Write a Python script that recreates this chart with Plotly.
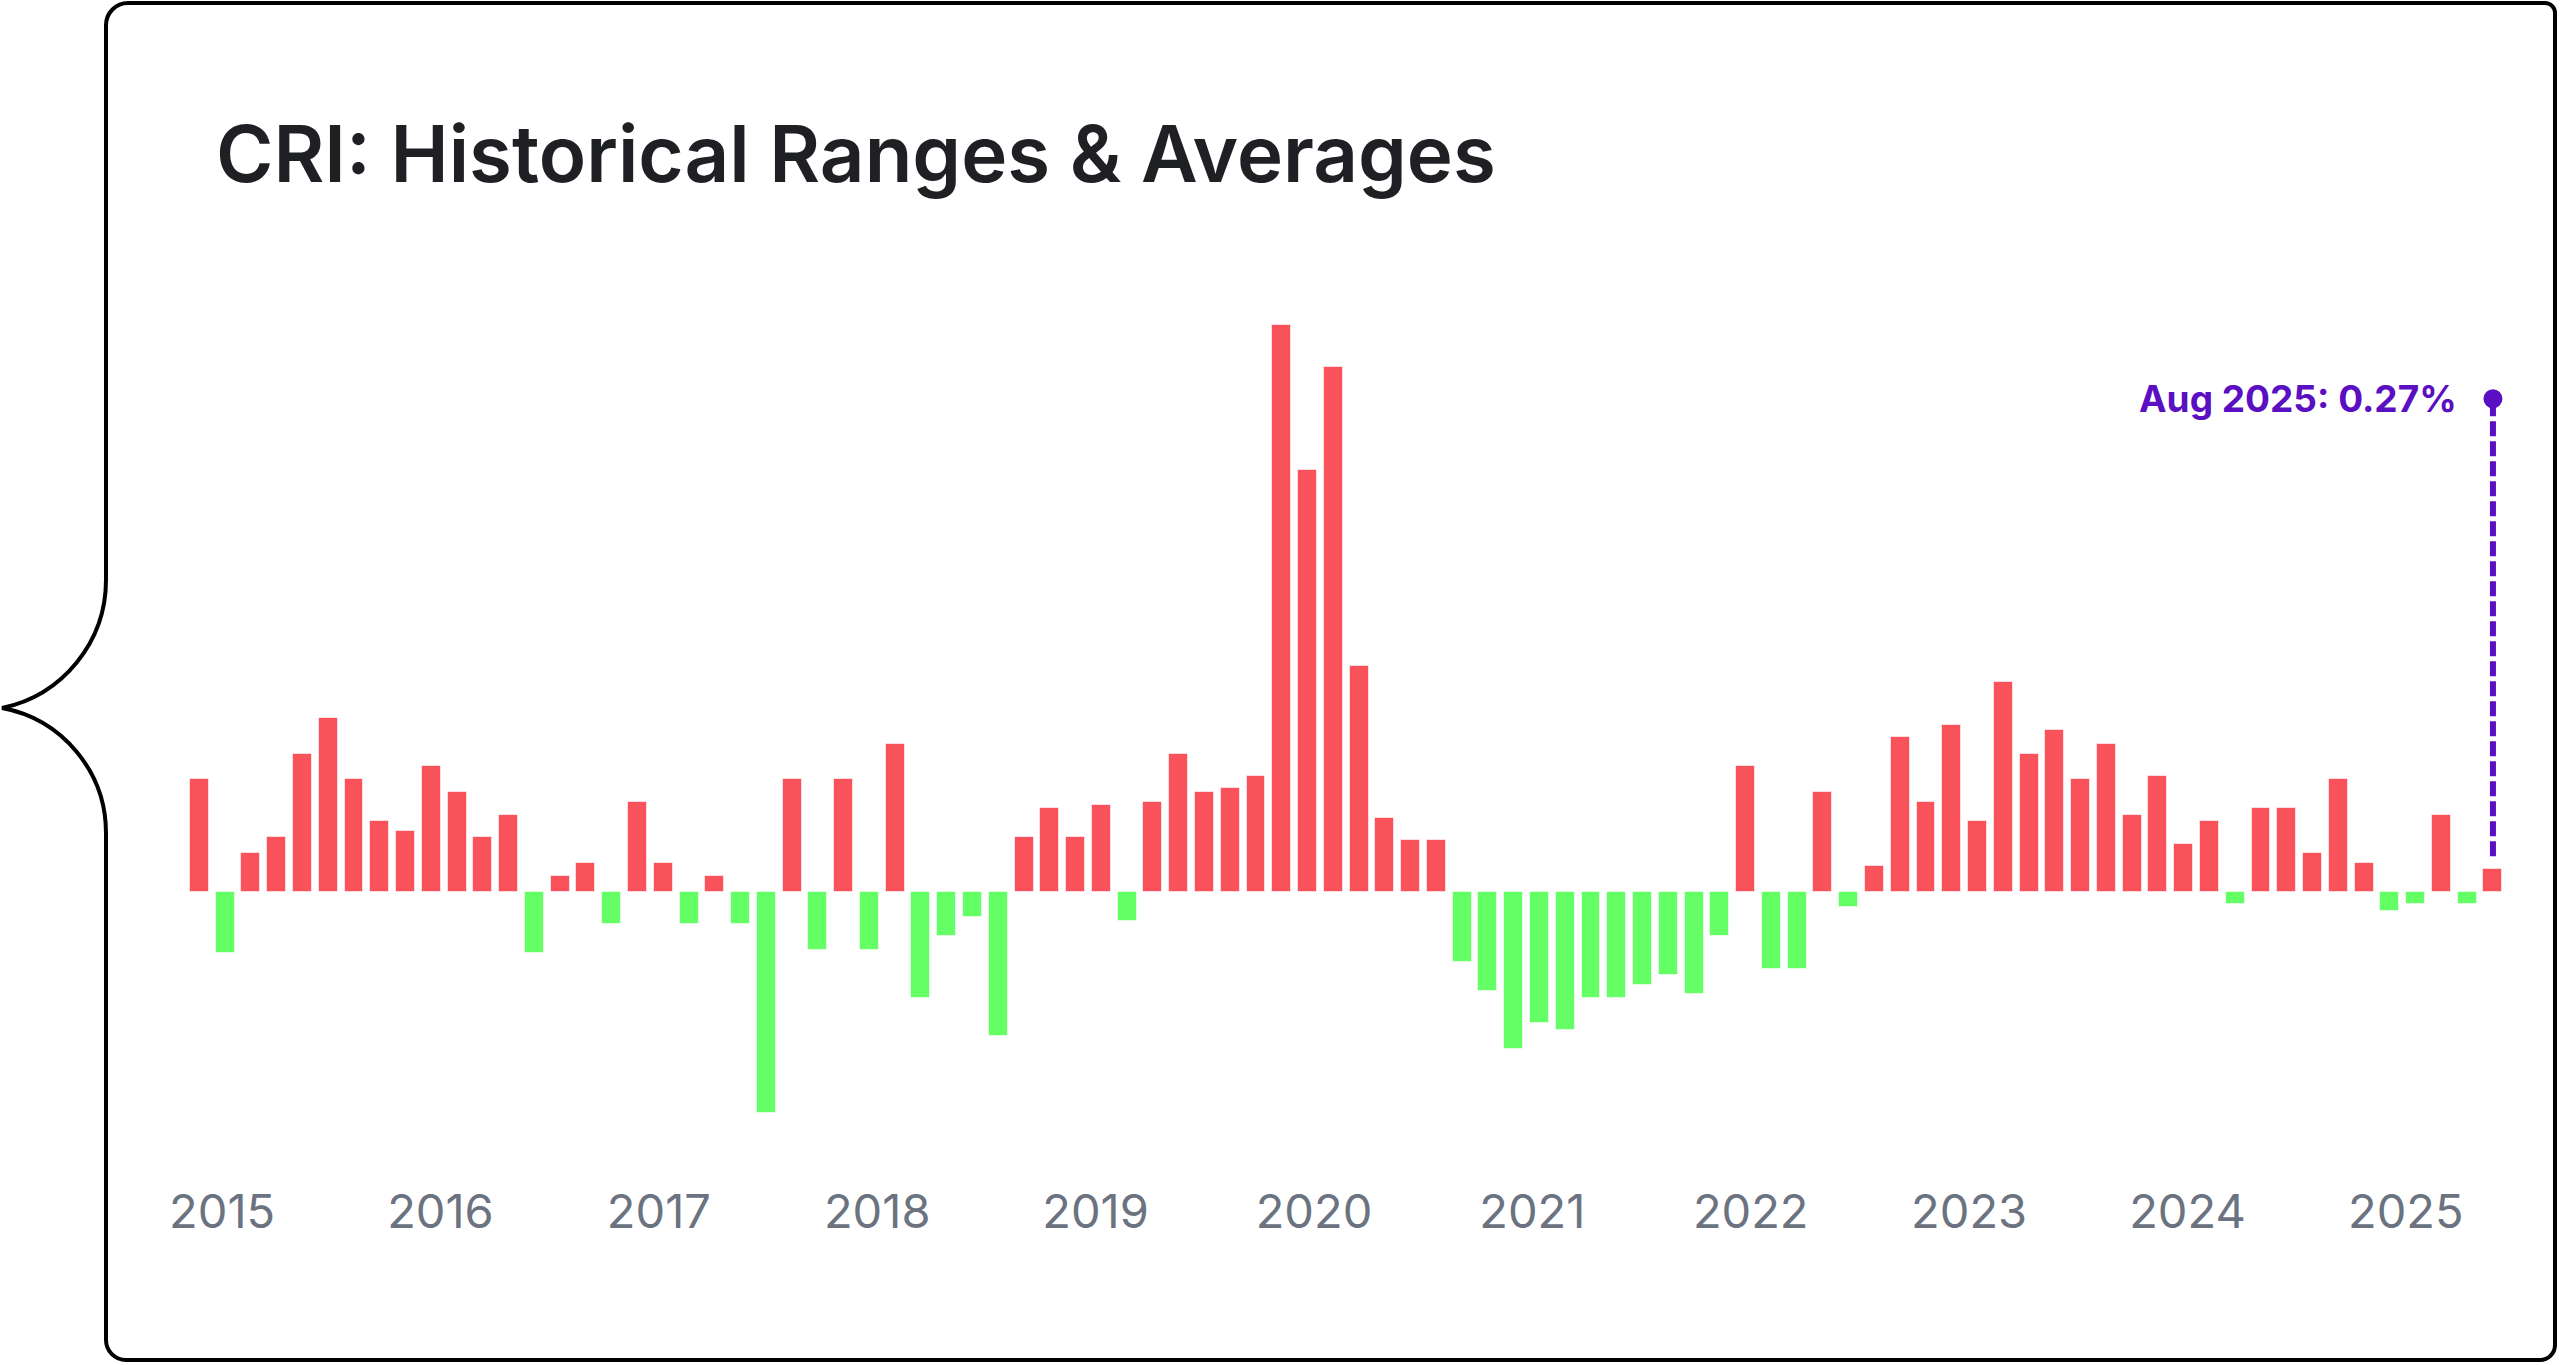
import plotly.graph_objects as go

# ---------------- data ----------------
values = [
    1.36, -0.74, 0.47, 0.66, 1.67, 2.10, 1.36, 0.85, 0.74, 1.52,
    1.21, 0.66, 0.93, -0.74, 0.19, 0.35, -0.39, 1.09, 0.35, -0.39,
    0.19, -0.39, -2.68, 1.36, -0.70, 1.36, -0.70, 1.79, -1.28, -0.54,
    -0.31, -1.75, 0.66, 1.01, 0.66, 1.05, -0.35, 1.09, 1.67, 1.21,
    1.25, 1.40, 6.85, 5.10, 6.34, 2.73, 0.89, 0.62, 0.62, -0.85,
    -1.20, -1.90, -1.59, -1.67, -1.28, -1.28, -1.13, -1.01, -1.24, -0.54,
    1.52, -0.93, -0.93, 1.21, -0.19, 0.31, 1.87, 1.09, 2.02, 0.85,
    2.53, 1.67, 1.95, 1.36, 1.79, 0.93, 1.40, 0.58, 0.85, -0.15,
    1.01, 1.01, 0.47, 1.36, 0.35, -0.23, -0.15, 0.93, -0.15, 0.27,
]
periods = list(range(len(values)))
year_labels = ["2015", "2016", "2017", "2018", "2019", "2020",
               "2021", "2022", "2023", "2024", "2025"]
callout_text = "Aug 2025: 0.27%"
title_text = "CRI: Historical Ranges & Averages"

# ---------------- style ----------------
RED = "#F9525A"
GREEN = "#63FF64"
PURPLE = "#5A0FC2"
W, H = 2560, 1365
L, R, T, B = 150, 2530, 300, 1150  # plot area in pixels
x_range = [-1.917, 90.438]
y_range = [-3.123, 7.155]
callout_level = 5.96
tick_start, tick_step = 0.88, 8.474
tick_vals = [tick_start + tick_step * i for i in range(len(year_labels))]

colors = [RED if v >= 0 else GREEN for v in values]


def pp(x, y):
    """pixel -> paper coordinates"""
    return (x - L) / (R - L), (B - y) / (B - T)


def path(cmds):
    out = []
    for c in cmds:
        op, pts = c[0], c[1:]
        s = op + " " + " ".join("%.5f,%.5f" % pp(*p) for p in pts)
        out.append(s)
    return " ".join(out)


frame = path([
    ("M", (128, 3)),
    ("L", (2545, 3)),
    ("C", (2550.5, 3), (2555, 7.5), (2555, 13)),
    ("L", (2555, 1345)),
    ("C", (2555, 1353.3), (2548.3, 1360), (2540, 1360)),
    ("L", (126, 1360)),
    ("C", (115, 1360), (106, 1351), (106, 1340)),
    ("L", (106, 833)),
    ("C", (106, 771.75), (62.2, 719.1), (2, 708)),
    ("C", (62.6, 695.3), (106, 641.9), (106, 580)),
    ("L", (106, 25)),
    ("C", (106, 12.9), (115.9, 3), (128, 3)),
])

fig = go.Figure()
fig.add_trace(go.Bar(
    x=periods, y=values, width=0.735,
    marker=dict(color=colors, line=dict(color="rgba(255,255,255,0.6)", width=1)),
    hoverinfo="skip", showlegend=False,
))

last_x = periods[-1]
last_v = values[-1]
fig.add_shape(type="line", xref="x", yref="y",
              x0=last_x, x1=last_x, y0=last_v + 0.16, y1=callout_level,
              line=dict(color=PURPLE, width=6, dash="15px,5px"))
fig.add_trace(go.Scatter(
    x=[last_x], y=[callout_level], mode="markers",
    marker=dict(color=PURPLE, size=19), hoverinfo="skip", showlegend=False,
))
fig.add_annotation(x=last_x, y=callout_level, xref="x", yref="y",
                   text=callout_text, showarrow=False, xanchor="right",
                   yanchor="middle", xshift=-34,
                   font=dict(family="Inter", size=37, color=PURPLE, weight=700))

tx, ty = pp(214, 153)
fig.add_annotation(x=tx, y=ty, xref="paper", yref="paper", text=title_text,
                   showarrow=False, xanchor="left", yanchor="middle",
                   font=dict(family="Inter", size=78, color="#1E2024", weight=600))

fig.add_shape(type="path", xref="paper", yref="paper", path=frame,
              line=dict(color="black", width=4), fillcolor="rgba(0,0,0,0)",
              layer="above")

fig.update_layout(
    width=W, height=H, autosize=False,
    margin=dict(l=L, r=W - R, t=T, b=H - B, pad=0),
    paper_bgcolor="white", plot_bgcolor="white",
    xaxis=dict(range=x_range, tickvals=tick_vals, ticktext=year_labels,
               showgrid=False, zeroline=False, showline=False, ticks="",
               tickfont=dict(family="Inter", size=47, color="#6B7280"),
               ticklabelstandoff=30, fixedrange=True),
    yaxis=dict(range=y_range, showgrid=False, zeroline=False, showline=False,
               showticklabels=False, ticks="", fixedrange=True),
    bargap=0,
)

fig.write_html("out.html", config={"displayModeBar": False},
               post_script="document.body.style.margin='0';document.body.style.overflow='hidden';")
